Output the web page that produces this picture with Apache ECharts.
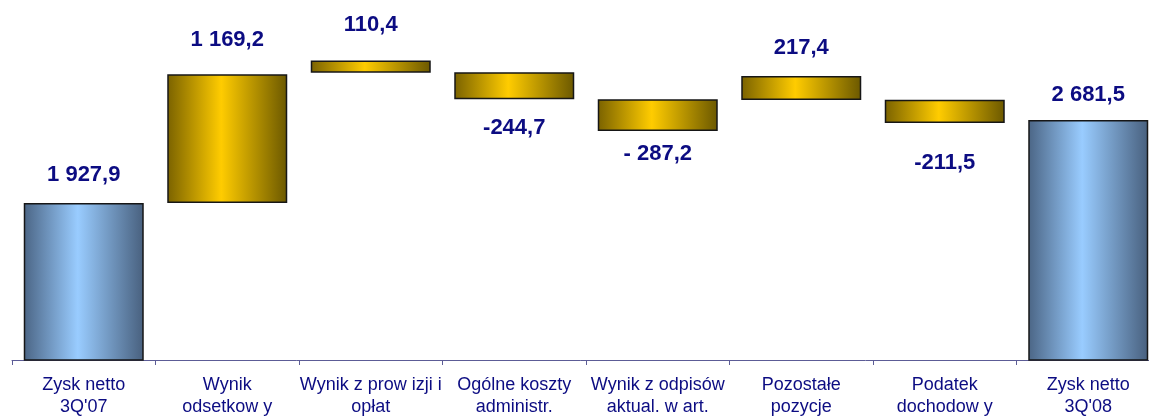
<!DOCTYPE html>
<html>
<head>
<meta charset="utf-8">
<script src="https://cdn.jsdelivr.net/npm/echarts@6/dist/echarts.min.js"></script>
<style>
  html, body { margin: 0; padding: 0; background: #fff; }
  #chart { width: 1149px; height: 417px; }
</style>
</head>
<body>
<div id="chart"></div>
<script>
const categories = [
  'Zysk netto\n3Q\'07',
  'Wynik\nodsetkow y',
  'Wynik z prow izji i\nopłat',
  'Ogólne koszty\nadministr.',
  'Wynik z odpisów\naktual. w art.',
  'Pozostałe\npozycje',
  'Podatek\ndochodow y',
  'Zysk netto\n3Q\'08'
];
// change of each step (totals for first and last)
const values = [1927.9, 1169.2, 110.4, -244.7, -287.2, 217.4, -211.5, 2681.5];
// level each bar starts from, as drawn in the picture
const starts = [0, 1927.9, 3112, 3115, 2870, 2864, 2866, 0];
const valueLabels = ['1 927,9', '1 169,2', '110,4', '-244,7', '- 287,2', '217,4', '-211,5', '2 681,5'];

// label distance from bar edge (px)
const labelGap = [17, 23, 25, 18, 12, 17, 29, 14];

const navy = '#0c0c82';

const goldFill = new echarts.graphic.LinearGradient(0, 0, 1, 0, [
  { offset: 0, color: '#7a6200' },
  { offset: 0.45, color: '#ffcc00' },
  { offset: 1, color: '#6b5800' }
]);
const blueFill = new echarts.graphic.LinearGradient(0, 0, 1, 0, [
  { offset: 0, color: '#4b6585' },
  { offset: 0.45, color: '#99ccff' },
  { offset: 1, color: '#48607e' }
]);

const baseData = starts.map((s, i) => Math.min(s, s + values[i]));
const barData = values.map((v, i) => ({
  value: Math.abs(v),
  itemStyle: { color: starts[i] === 0 ? blueFill : goldFill },
  label: {
    position: v < 0 ? 'bottom' : 'top',
    distance: labelGap[i]
  }
}));

const chart = echarts.init(document.getElementById('chart'));
chart.setOption({
  animation: false,
  grid: { left: 12, top: 19, width: 1148, height: 341, outerBoundsMode: 'none', containLabel: false },
  xAxis: {
    type: 'category',
    data: categories,
    axisLine: { lineStyle: { color: '#5c5c96', width: 1 } },
    axisTick: { show: true, length: 5, lineStyle: { color: '#5c5c96' } },
    axisLabel: {
      color: navy,
      fontFamily: 'Liberation Sans, Arial, sans-serif',
      fontSize: 18,
      lineHeight: 22,
      margin: 14,
      interval: 0
    }
  },
  yAxis: {
    type: 'value',
    min: 500,
    max: 3600,
    show: false,
    splitLine: { show: false }
  },
  series: [
    {
      type: 'bar',
      stack: 'w',
      data: baseData,
      itemStyle: { color: 'transparent' },
      silent: true,
      barWidth: 120
    },
    {
      type: 'bar',
      stack: 'w',
      data: barData,
      barWidth: 120,
      itemStyle: { borderColor: '#161616', borderWidth: 1.5 },
      label: {
        show: true,
        color: navy,
        fontFamily: 'Liberation Sans, Arial, sans-serif',
        fontSize: 22,
        fontWeight: 'bold',
        formatter: p => valueLabels[p.dataIndex]
      }
    }
  ]
});
</script>
</body>
</html>
